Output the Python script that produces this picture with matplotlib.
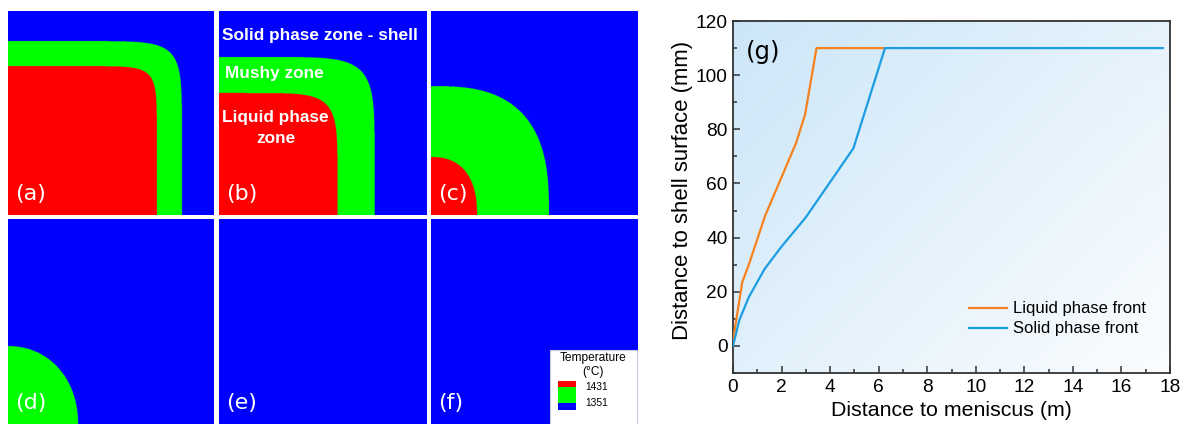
import numpy as np
import matplotlib
matplotlib.use("Agg")
import matplotlib.pyplot as plt
from matplotlib.colors import ListedColormap, LinearSegmentedColormap
from matplotlib.patches import Rectangle
from matplotlib.ticker import MultipleLocator

plt.rcParams['font.family'] = ['Liberation Sans', 'DejaVu Sans']

# ---- cross-section snapshots (quarter section, centre at lower-left) ----
panel_labels = ['(a)', '(b)', '(c)', '(d)', '(e)', '(f)']
# mushy-zone (solid front) extents as fraction of the section, plus shape exponent
mushy_w = [0.845, 0.749, 0.570, 0.340, 0.0, 0.0]
mushy_h = [0.853, 0.775, 0.632, 0.380, 0.0, 0.0]
mushy_n = [10.0, 7.5, 2.8, 2.1, 2.0, 2.0]
# liquid-zone (liquid front) extents
liquid_w = [0.723, 0.570, 0.222, 0.0, 0.0, 0.0]
liquid_h = [0.730, 0.598, 0.284, 0.0, 0.0, 0.0]
liquid_n = [12.0, 7.0, 2.4, 2.0, 2.0, 2.0]

zone_colors = ['#0000ff', '#00ff00', '#ff0000']
legend_temps = [1431, 1351]

# ---- solidification front profiles ----
liquid_x = [0, 0.38, 0.67, 1.32, 2.6, 2.97, 3.44, 6.19]
liquid_y = [2, 23.5, 30.5, 48, 75, 85.5, 110, 110]
solid_x = [0, 0.26, 0.65, 1.3, 2.0, 3.0, 4.96, 6.26, 17.7]
solid_y = [0, 9.5, 18, 28.4, 36.7, 47.5, 73, 110, 110]
x_ticks = list(range(0, 19, 2))
y_ticks = list(range(0, 121, 20))

W, H = 1185, 424
fig = plt.figure(figsize=(W / 100, H / 100), dpi=100)


def fax(x0, y0, x1, y1):
    """Axes from pixel box (left, top, right, bottom)."""
    return fig.add_axes([x0 / W, 1 - y1 / H, (x1 - x0) / W, (y1 - y0) / H])


col_px = [(8, 214), (219, 426), (431, 638)]
row_px = [(11, 215), (219, 424)]
cmap = ListedColormap(zone_colors)
g = np.linspace(0, 1, 700)
X, Y = np.meshgrid(g, g)

axes_sec = []
for i in range(6):
    r, c = divmod(i, 3)
    ax = fax(col_px[c][0], row_px[r][0], col_px[c][1], row_px[r][1])
    field = np.zeros_like(X)
    if mushy_w[i] > 0:
        s = (X / mushy_w[i]) ** mushy_n[i] + (Y / mushy_h[i]) ** mushy_n[i]
        field[s <= 1] = 1
    if liquid_w[i] > 0:
        s = (X / liquid_w[i]) ** liquid_n[i] + (Y / liquid_h[i]) ** liquid_n[i]
        field[s <= 1] = 2
    ax.imshow(field, cmap=cmap, vmin=0, vmax=2, origin='lower',
              extent=[0, 1, 0, 1], aspect='auto', interpolation='antialiased')
    ax.set_xlim(0, 1)
    ax.set_ylim(0, 1)
    ax.set_axis_off()
    ax.text(0.035, 0.055, panel_labels[i], color='white', fontsize=16,
            family='DejaVu Sans', transform=ax.transAxes, ha='left', va='bottom')
    axes_sec.append(ax)

# zone annotations
axb = axes_sec[1]
bold = dict(color='white', fontsize=12.4, fontweight='bold', transform=axb.transAxes,
            va='center')
axb.text(0.015, 0.882, 'Solid phase zone - shell', ha='left', **bold)
axb.text(0.029, 0.696, 'Mushy zone', ha='left', **bold)
axb.text(0.273, 0.48, 'Liquid phase', ha='center', **bold)
axb.text(0.273, 0.377, 'zone', ha='center', **bold)

# temperature legend inside panel (f)
axf = axes_sec[5]
axf.add_patch(Rectangle((0.575, -0.01), 0.42, 0.372, facecolor='white',
                        edgecolor='#c8c8e8', lw=0.8, transform=axf.transAxes, zorder=3))
axf.text(0.783, 0.322, 'Temperature', fontsize=8.6, ha='center', va='center',
         transform=axf.transAxes, zorder=4)
axf.text(0.783, 0.254, '(°C)', fontsize=8.6, ha='center', va='center',
         transform=axf.transAxes, zorder=4)
sw = [(0.180, 0.210, zone_colors[2]), (0.102, 0.180, zone_colors[1]),
      (0.068, 0.102, zone_colors[0])]
for y0, y1, col in sw:
    axf.add_patch(Rectangle((0.614, y0), 0.086, y1 - y0, facecolor=col,
                            edgecolor='none', transform=axf.transAxes, zorder=4))
for t, yy in zip(legend_temps, [0.180, 0.102]):
    axf.text(0.745, yy, str(t), fontsize=7.4, ha='left', va='center',
             transform=axf.transAxes, zorder=4)

# ---- front position chart ----
axg = fax(733, 21, 1170, 373)
grad_cmap = LinearSegmentedColormap.from_list('bg', ['#fbfdff', '#cce6f8'])
gx, gy = np.meshgrid(np.linspace(0, 1, 300), np.linspace(0, 1, 300))
tt = ((1 - gx) * 0.55 + gy * 0.45)
axg.imshow(tt, cmap=grad_cmap, origin='lower', extent=[0, 1, 0, 1],
           transform=axg.transAxes, aspect='auto', zorder=0, vmin=0, vmax=1)

axg.plot(liquid_x, liquid_y, color='#f5821f', lw=1.6, label='Liquid phase front', zorder=3)
axg.plot(solid_x, solid_y, color='#1b9de2', lw=1.6, label='Solid phase front', zorder=3)
axg.set_xlim(0, 18)
axg.set_ylim(-10, 120)
axg.set_xticks(x_ticks)
axg.set_yticks(y_ticks)
axg.xaxis.set_minor_locator(MultipleLocator(1))
axg.yaxis.set_minor_locator(MultipleLocator(10))
axg.tick_params(which='both', direction='in', labelsize=13.8, color='#333333', width=1.1)
axg.tick_params(which='major', length=5, pad=4)
axg.tick_params(which='minor', length=3)
for sp in axg.spines.values():
    sp.set_linewidth(1.3)
    sp.set_color('#333333')
axg.set_xlabel('Distance to meniscus (m)', fontsize=15.4, labelpad=4)
axg.set_ylabel('Distance to shell surface (mm)', fontsize=15.9)
axg.yaxis.set_label_coords(-0.092, 0.52)
axg.text(0.52, 108.5, '(g)', fontsize=17.5, family='DejaVu Sans', ha='left',
         va='center', zorder=4)
axg.legend(loc='lower right', bbox_to_anchor=(0.96, 0.085), frameon=False,
           fontsize=12, handlelength=2.3, handletextpad=0.35, labelspacing=0.3,
           borderaxespad=0)

fig.savefig('out.png', dpi=100)
